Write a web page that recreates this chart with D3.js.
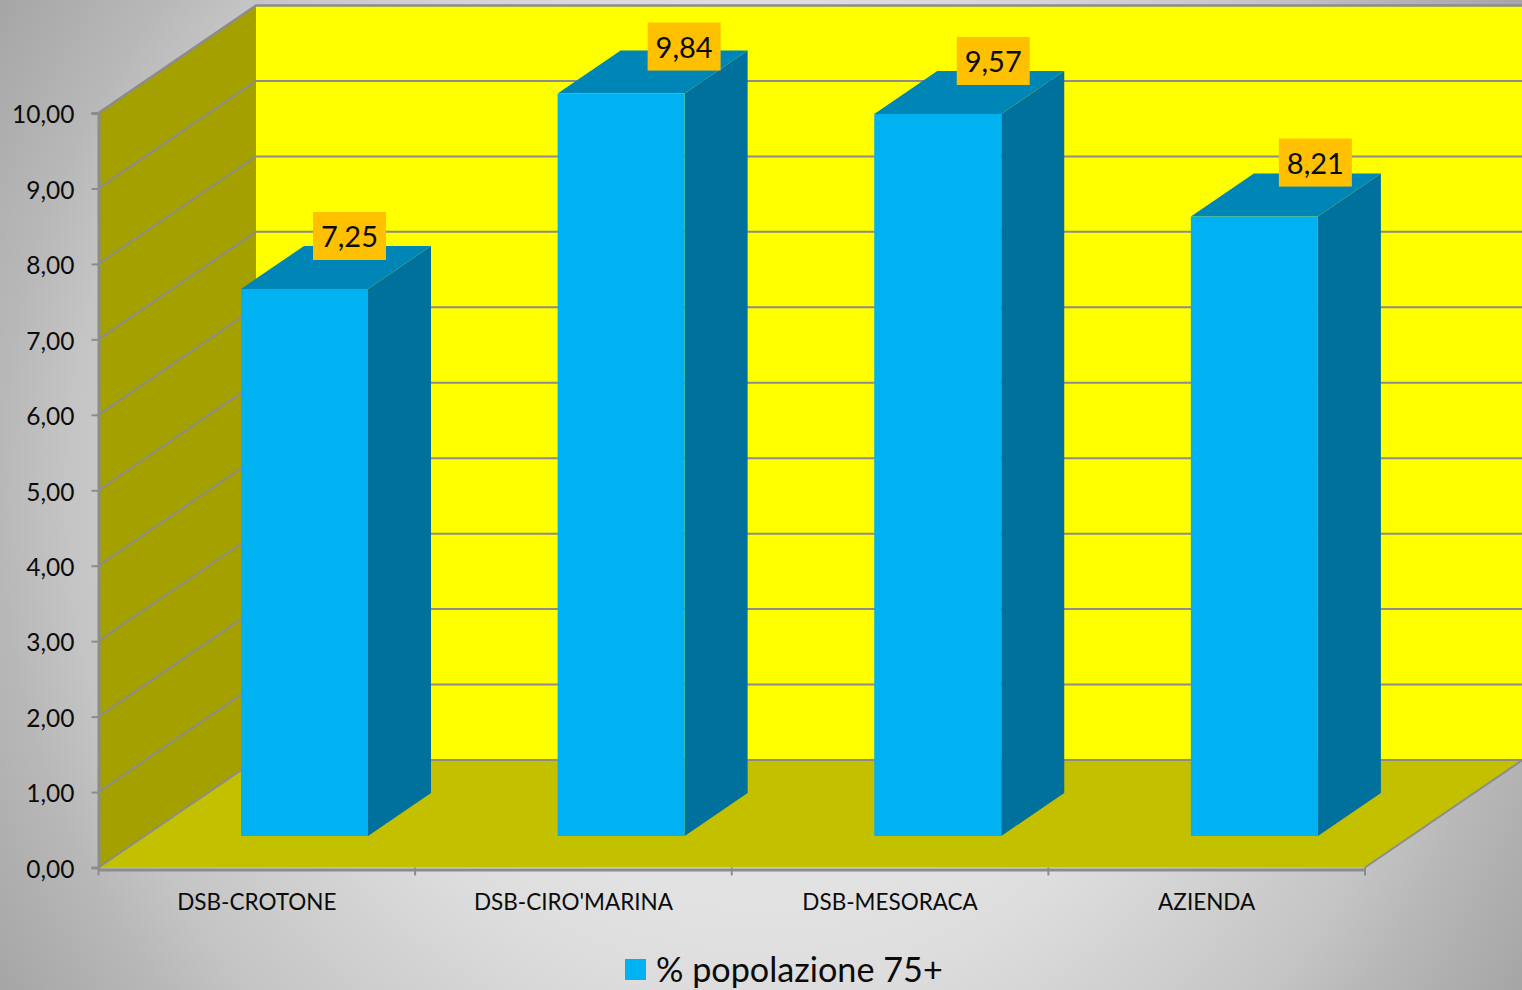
<!DOCTYPE html>
<html><head><meta charset="utf-8">
<script src="https://cdn.jsdelivr.net/npm/d3@7"></script>
<style>html,body{margin:0;padding:0;background:#ccc;overflow:hidden}svg{display:block}text{font-family:Lato,"Noto Sans",sans-serif;fill:#0b0b0b}</style>
</head><body><svg id="c" width="1522" height="990"></svg>
<script>
const categories = ["DSB-CROTONE","DSB-CIRO'MARINA","DSB-MESORACA","AZIENDA"];
const values = [7.25,9.84,9.57,8.21];
const labels = ["7,25","9,84","9,57","8,21"];
const yTicks = [0,1,2,3,4,5,6,7,8,9,10];
const seriesName = "% popolazione 75+";
// manually placed data-label nudges, relative to each bar's top centre
const labelNudgeX = [45,63,55.5,61];
const labelNudgeY = [-53,-47,-53,-54];

const svg = d3.select("#c");
const x0=98.5,x1=1365,y0=867.5,y10=113,depthX=157.5,depthY=107.5;
const y=d3.scaleLinear().domain([0,10]).range([y0,y10]);
const x=d3.scaleBand().domain(categories).range([x0,x1]);
const fmt=d=>d3.format(".2f")(d).replace(".",",");
const line=d3.line();

const defs=svg.append("defs");
const g=defs.append("radialGradient").attr("id","bg").attr("gradientUnits","userSpaceOnUse")
 .attr("cx",0).attr("cy",0).attr("r",1.17).attr("gradientTransform","translate(761,495) scale(761,800)");
[[0,"#eaeaea"],[.43,"#e2e2e2"],[.53,"#dddddd"],[.78,"#c4c4c4"],[.855,"#b8b8b8"],[1,"#a6a6a6"]].forEach(s=>g.append("stop").attr("offset",s[0]).attr("stop-color",s[1]));
svg.append("rect").attr("width",1522).attr("height",990).attr("fill","url(#bg)");

const backX=x0+depthX, W=1522;
svg.append("rect").attr("x",backX).attr("y",y(10)-depthY).attr("width",W-backX).attr("height",y0-y10).attr("fill","#ffff00");
svg.append("path").attr("d",line([[x0,y0],[x0,y10],[backX,y10-depthY],[backX,y0-depthY]])+"Z").attr("fill","#a3a000");
svg.append("path").attr("d",line([[x0,y0],[backX,y0-depthY],[x1+depthX,y0-depthY],[x1,y0]])+"Z").attr("fill","#c3c000");
const gc="#8c8c8c";
yTicks.forEach(t=>{
 svg.append("path").attr("d",line([[x0,y(t)],[backX,y(t)-depthY],[W,y(t)-depthY]])).attr("fill","none").attr("stroke",gc).attr("stroke-width",t==10?2.5:2);
});
svg.append("path").attr("d",line([[x1,y0],[x1+depthX,y0-depthY]])).attr("fill","none").attr("stroke",gc).attr("stroke-width",2);
const ya=svg.append("g").attr("transform",`translate(${x0},0)`).call(d3.axisLeft(y).tickValues(yTicks).tickFormat(fmt).tickSize(7).tickPadding(17));
const xa=svg.append("g").attr("transform",`translate(0,${y0+2})`).call(d3.axisBottom(x).tickSize(0).tickPadding(23));
[...categories.map(c=>x(c)),x1].forEach(v=>svg.append("line").attr("x1",v).attr("x2",v).attr("y1",y0).attr("y2",y0+8).attr("stroke",gc).attr("stroke-width",2));
svg.selectAll(".domain").attr("stroke",gc).attr("stroke-width",3);
ya.selectAll(".tick line").attr("stroke",gc).attr("stroke-width",2);
ya.selectAll("text").attr("font-size",24.5).attr("transform","translate(0,2)").style("font-family","Lato");
xa.selectAll("text").attr("font-size",22.5).attr("transform","translate(0,2)").style("font-family","Lato");
const barFrontX=142.5,barW=127,barBase=31.5,bdx=63,bdy=43;
values.forEach((v,i)=>{
 const l=x(categories[i])+barFrontX, r=l+barW, b=y0-barBase, t=b-(y0-y(v));
 svg.append("path").attr("d",line([[r,b],[r,t],[r+bdx,t-bdy],[r+bdx,b-bdy]])+"Z").attr("fill","#00719c");
 svg.append("path").attr("d",line([[l,t],[l+bdx,t-bdy],[r+bdx,t-bdy],[r,t]])+"Z").attr("fill","#0086b6");
 svg.append("rect").attr("x",l).attr("y",t).attr("width",barW).attr("height",b-t).attr("fill","#00b2f1");
 const cx=(l+r)/2+labelNudgeX[i], cy=t+labelNudgeY[i];
 svg.append("rect").attr("x",cx-36.5).attr("y",cy-24).attr("width",73).attr("height",48).attr("fill","#ffc000");
 svg.append("text").attr("x",cx).attr("y",cy+11.5).attr("text-anchor","middle").attr("font-size",29).text(labels[i]);
});
svg.append("rect").attr("x",625).attr("y",959).attr("width",21).attr("height",21).attr("fill","#00b2f1");
svg.append("text").attr("x",656).attr("y",982).attr("font-size",34.2).text(seriesName);
</script></body></html>
